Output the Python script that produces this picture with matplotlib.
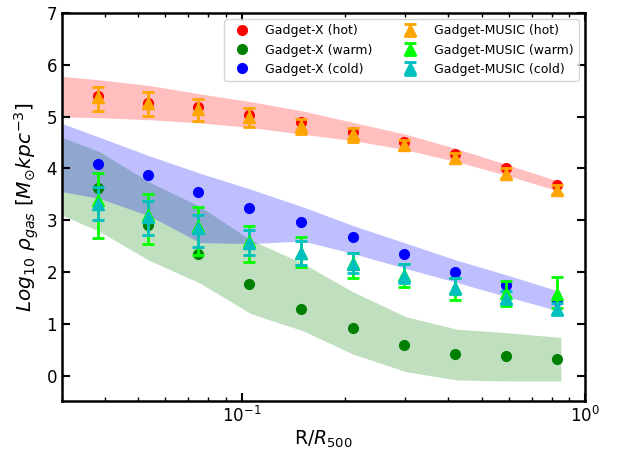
import numpy as np
import matplotlib
matplotlib.use("Agg")
import matplotlib.pyplot as plt

# Marker radii (R/R500)
r_pts = [0.0381, 0.0533, 0.0746, 0.1050, 0.1488, 0.2110, 0.2971, 0.4183, 0.5888, 0.8287]

# Gadget-X profiles (log10 rho)
gx_hot = [5.39, 5.27, 5.18, 5.04, 4.90, 4.71, 4.52, 4.27, 4.00, 3.68]
gx_warm = [3.62, 2.91, 2.35, 1.77, 1.28, 0.93, 0.60, 0.43, 0.39, 0.33]
gx_cold = [4.09, 3.87, 3.54, 3.24, 2.97, 2.68, 2.35, 2.01, 1.76, 1.47]

# Gadget-MUSIC profiles with errors: centre, upper, lower
gm_hot = [5.37, 5.27, 5.14, 5.00, 4.82, 4.66, 4.45, 4.20, 3.90, 3.59]
gm_hot_hi = [5.58, 5.47, 5.34, 5.16, 4.95, 4.79, 4.55, 4.29, 4.00, 3.68]
gm_hot_lo = [5.11, 5.02, 4.91, 4.80, 4.67, 4.52, 4.35, 4.11, 3.81, 3.50]

gm_warm = [3.40, 3.11, 2.89, 2.60, 2.37, 2.18, 1.95, 1.70, 1.60, 1.57]
gm_warm_hi = [3.91, 3.50, 3.26, 2.90, 2.68, 2.37, 2.16, 1.89, 1.82, 1.90]
gm_warm_lo = [2.66, 2.54, 2.34, 2.20, 2.09, 1.88, 1.71, 1.47, 1.34, 1.30]

gm_cold = [3.31, 3.07, 2.86, 2.57, 2.37, 2.15, 1.92, 1.70, 1.50, 1.28]
gm_cold_hi = [3.65, 3.37, 3.11, 2.82, 2.60, 2.36, 2.15, 1.88, 1.64, 1.41]
gm_cold_lo = [3.00, 2.71, 2.48, 2.33, 2.13, 1.99, 1.79, 1.57, 1.39, 1.18]

# Shaded band nodes
r_band = [0.0275, 0.0387, 0.0541, 0.0756, 0.1064, 0.1508, 0.2110, 0.3010, 0.4238, 0.5967, 0.8513]
hot_up = [5.80, 5.71, 5.60, 5.44, 5.29, 5.11, 4.89, 4.66, 4.38, 4.07, 3.74]
hot_lo = [5.00, 4.98, 4.94, 4.88, 4.79, 4.66, 4.54, 4.36, 4.13, 3.86, 3.55]
cold_up = [4.96, 4.60, 4.24, 3.91, 3.60, 3.26, 2.90, 2.56, 2.23, 1.94, 1.62]
cold_lo = [3.60, 3.42, 3.08, 2.57, 2.55, 2.60, 2.36, 2.07, 1.80, 1.52, 1.24]
warm_up = [4.70, 4.32, 3.73, 3.27, 2.62, 2.17, 1.62, 1.14, 0.90, 0.83, 0.74]
warm_lo = [3.21, 2.78, 2.22, 1.79, 1.20, 0.87, 0.42, 0.08, -0.08, -0.10, -0.10]

fig = plt.figure(figsize=(6.17, 4.5), dpi=100)
ax = fig.add_axes([0.1005, 0.1096, 0.8475, 0.8615])

ax.fill_between(r_band, hot_lo, hot_up, color='red', alpha=0.25, lw=0)
ax.fill_between(r_band, warm_lo, warm_up, color='green', alpha=0.25, lw=0)
ax.fill_between(r_band, cold_lo, cold_up, color='blue', alpha=0.25, lw=0)

ax.plot(r_pts, gx_hot, 'o', color='red', ms=7, label='Gadget-X (hot)')
ax.plot(r_pts, gx_warm, 'o', color='green', ms=7, label='Gadget-X (warm)')
ax.plot(r_pts, gx_cold, 'o', color='blue', ms=7, label='Gadget-X (cold)')

def err(c, hi, lo):
    c = np.array(c); hi = np.array(hi); lo = np.array(lo)
    return [c - lo, hi - c]

ax.errorbar(r_pts, gm_hot, yerr=err(gm_hot, gm_hot_hi, gm_hot_lo), fmt='^', color='orange',
            ms=8, elinewidth=2, capsize=4, capthick=2, label='Gadget-MUSIC (hot)')
ax.errorbar(r_pts, gm_warm, yerr=err(gm_warm, gm_warm_hi, gm_warm_lo), fmt='^', color='lime',
            ms=8, elinewidth=2, capsize=4, capthick=2, label='Gadget-MUSIC (warm)')
ax.errorbar(r_pts, gm_cold, yerr=err(gm_cold, gm_cold_hi, gm_cold_lo), fmt='^', color='c',
            ms=8, elinewidth=2, capsize=4, capthick=2, label='Gadget-MUSIC (cold)')

ax.set_xscale('log')
ax.set_xlim(0.03, 1.0)
ax.set_ylim(-0.48, 7.0)
ax.set_yticks([0, 1, 2, 3, 4, 5, 6, 7])

ax.tick_params(which='both', direction='in', top=True, right=True, labelsize=12)
ax.tick_params(which='major', length=6, width=1.5)
ax.tick_params(which='minor', length=3, width=1)
for s in ax.spines.values():
    s.set_linewidth(1.8)

ax.set_xlabel(r'R/$R_{500}$', fontsize=13.5, labelpad=2)
ax.set_ylabel(r'$Log_{10}\ \rho_{gas}\ [M_{\odot}kpc^{-3}]$', fontsize=14.5)

ax.legend(loc='upper right', ncol=2, fontsize=9, handletextpad=0.9)

fig.savefig('out.png', dpi=100)
